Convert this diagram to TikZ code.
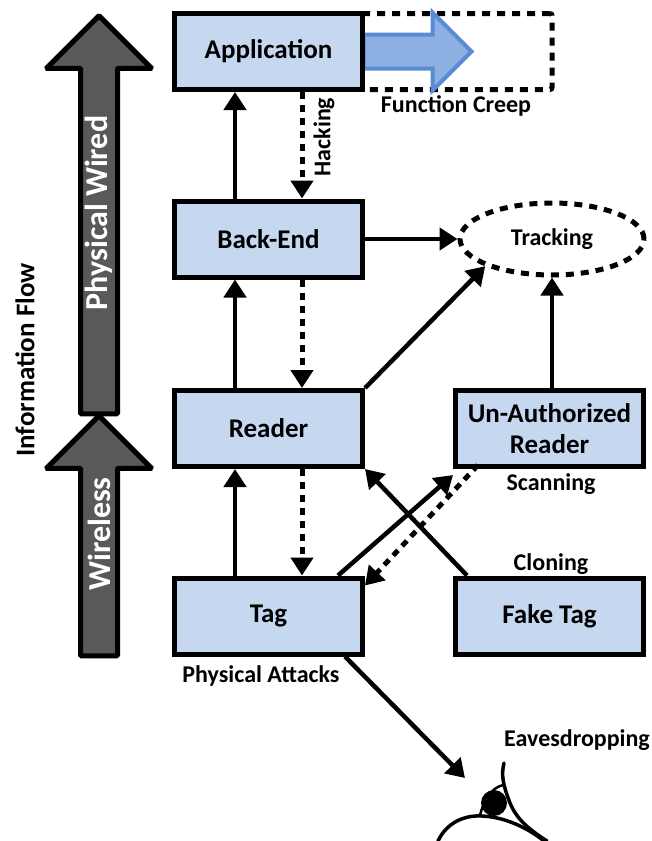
\documentclass[tikz,border=0pt]{standalone}
\usepackage{fontspec}
\setmainfont{Carlito}[BoldFont=Carlito Bold]
\usetikzlibrary{arrows.meta,shapes.geometric,shapes.arrows}
\definecolor{boxblue}{HTML}{C6D8F0}
\definecolor{arrowblue}{HTML}{8DB0E2}
\definecolor{edgeblue}{HTML}{5A8BD6}
\definecolor{flowgray}{HTML}{595959}
\tikzset{
	block/.style={draw, line width=5pt, fill=boxblue, minimum width=188pt, minimum height=76pt, inner sep=0pt, font=\bfseries\fontsize{27}{31}\selectfont, align=center},
	link/.style={line width=4.5pt, -{Triangle[width=22pt,length=18pt]}},
	dashlink/.style={line width=5pt, dash pattern=on 7pt off 6pt, -{Triangle[width=22pt,length=18pt]}},
	caption/.style={font=\bfseries\fontsize{24}{28}\selectfont, inner sep=0pt},
	flow/.style={single arrow, draw=black, line width=5pt, fill=flowgray, rounded corners=1pt, inner xsep=0pt, inner ysep=16pt, single arrow head extend=34pt, rotate=90},
	flowtext/.style={font=\bfseries\fontsize{32}{36}\selectfont, text=white, rotate=90, inner sep=0pt}
}
\begin{document}
\begin{tikzpicture}[x=1pt, y=-1pt]
	\useasboundingbox (0, 0) rectangle (651, 841);
	\node [flow, minimum height=398pt] (wired) at (99, 224) {};
	\node [flow, minimum height=240pt] (wireless) at (99, 545) {};
	\node [flowtext] (wiredtext) at (99, 213) {Physical Wired};
	\node [flowtext] (wirelesstext) at (99, 534) {Wireless};
	\node [caption, font=\bfseries\fontsize{27}{31}\selectfont, rotate=90] (flowtext) at (25, 360) {Information Flow};

	\node [draw, line width=5pt, dash pattern=on 8pt off 7pt, rounded corners=2pt, minimum width=190pt, minimum height=76pt, inner sep=0pt] (creepbox) at (457, 51.5) {};
	\node [single arrow, draw=edgeblue, line width=4pt, fill=arrowblue, inner xsep=0pt, inner ysep=15pt, single arrow head extend=22pt, minimum height=108pt] (creep) at (409, 51.5) {};
	\node [block] (application) at (268.5, 51.5) {Application};
	\node [block] (backend) at (268.5, 239) {Back-End};
	\node [block] (reader) at (268.5, 428.5) {Reader};
	\node [block] (tag) at (268.5, 616) {Tag};
	\node [block] (unauth) at (549.5, 428.5) {Un-Authorized\\Reader};
	\node [block] (faketag) at (549.5, 616) {Fake Tag};
	\node [draw, line width=5pt, dash pattern=on 8pt off 7pt, ellipse, minimum width=184pt, minimum height=72pt, inner sep=0pt, caption] (tracking) at (552, 239) {Tracking};

	\node [caption, rotate=90] (hacking) at (324, 137) {Hacking};
	\node [caption] (creeplabel) at (456, 106) {Function Creep};
	\node [caption] (scanning) at (551, 484) {Scanning};
	\node [caption] (cloning) at (551, 564) {Cloning};
	\node [caption] (attacks) at (261, 676) {Physical Attacks};
	\node [caption] (eaves) at (577, 740) {Eavesdropping};
	\coordinate (eye) at (465, 778);

	\draw [link] ([xshift=-33.5pt]backend.north) -- ([xshift=-33.5pt]application.south);
	\draw [link] ([xshift=-33.5pt]reader.north) -- ([xshift=-33.5pt]backend.south);
	\draw [link] ([xshift=-33.5pt]tag.north) -- ([xshift=-33.5pt]reader.south);
	\draw [dashlink] ([xshift=33.5pt]application.south) -- ([xshift=33.5pt]backend.north);
	\draw [dashlink] ([xshift=33.5pt]backend.south) -- ([xshift=33.5pt]reader.north);
	\draw [dashlink] ([xshift=33.5pt]reader.south) -- ([xshift=33.5pt]tag.north);
	\draw [link] (backend.east) -- (tracking.west);
	\draw [link] (reader.north east) -- (tracking.south west);
	\draw [link] (unauth.north) ++(2.5, 0) -- (tracking.south);
	\draw [link] ([xshift=-27pt]tag.north east) -- ([yshift=-6pt]unauth.south west);
	\draw [dashlink] ([xshift=25pt,yshift=4pt]unauth.south west) -- ([yshift=-10pt]tag.north east);
	\draw [link] ([xshift=14pt]faketag.north west) -- (reader.south east);
	\draw [link] ([xshift=-20pt]tag.south east) -- (eye);

	\draw [line width=3.5pt, line cap=round] (504, 763) .. controls (501, 775) and (503, 785) .. (510, 803) .. controls (517, 820) and (530, 830) .. (547, 841);
	\draw [line width=3.5pt, line cap=round] (438, 841) .. controls (447, 822) and (465, 815) .. (482, 816) .. controls (505, 817) and (528, 828) .. (544, 841);
	\draw [line width=2.5pt] (480, 815) .. controls (484, 800) and (491, 788) .. (503, 785);
	\node [circle, fill=black, minimum size=26pt, inner sep=0pt] (pupil) at (494, 803) {};
\end{tikzpicture}
\end{document}
